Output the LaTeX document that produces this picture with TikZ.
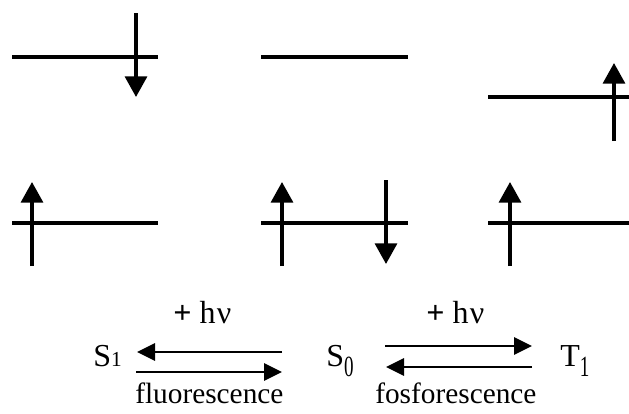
\documentclass[tikz,border=0pt]{standalone}
\usepackage{fontspec}
\usepackage{graphicx}
\setmainfont{Liberation Serif}
\usetikzlibrary{arrows.meta}
\newcommand{\lowsub}[1]{\raisebox{-7.5pt}{\scalebox{0.65}[1]{\fontsize{22}{22}\selectfont #1}}}
\begin{document}
\begin{tikzpicture}[x=0.75pt,y=-0.75pt,
    level/.style={line width=2.5pt},
    spin/.style={line width=2.5pt,-{Triangle[length=15.5pt,width=16.5pt]}},
    trans/.style={line width=1.5pt,-{Triangle[length=13.5pt,width=13pt]}},
    lbl/.style={inner sep=0pt,anchor=base west,font=\fontsize{24}{28}\selectfont}]
    \useasboundingbox (0,0) rectangle (629,414);
    % upper row of orbitals
    \draw[level] (12,57) -- (158,57);
    \draw[spin] (136,13) -- (136,97);
    \draw[level] (261,57) -- (408,57);
    \draw[level] (488,97) -- (629,97);
    \draw[spin] (614,141) -- (614,63);
    % lower row of orbitals
    \draw[level] (12,223) -- (158,223);
    \draw[spin] (32,266) -- (32,182);
    \draw[level] (261,223) -- (408,223);
    \draw[spin] (282,266) -- (282,182);
    \draw[spin] (386,180) -- (386,264);
    \draw[level] (488,223) -- (629,223);
    \draw[spin] (510,266) -- (510,182);
    % states
    \node[lbl] (s1) at (93,366) {S{\fontsize{16}{16}\selectfont 1}};
    \node[lbl] (s0) at (326,366) {S\lowsub{0}};
    \node[lbl] (t1) at (560,366) {T\lowsub{1}};
    \node[lbl] (hv1) at (173,323) {\textbf{+} h\kern1ptν};
    \node[lbl] (hv2) at (426,323) {\textbf{+} h\kern1ptν};
    \node[lbl,font=\fontsize{22}{26}\selectfont] (fluo) at (135,403) {fluorescence};
    \node[lbl,font=\fontsize{22}{26}\selectfont] (fosfo) at (375,403) {fosforescence};
    % transitions
    \coordinate (a1) at (282,352); \coordinate (a2) at (137,352);
    \coordinate (b1) at (136,372); \coordinate (b2) at (282,372);
    \coordinate (c1) at (385,346); \coordinate (c2) at (532,346);
    \coordinate (d1) at (532,367); \coordinate (d2) at (386,367);
    \draw[trans] (a1) -- (a2);
    \draw[trans] (b1) -- (b2);
    \draw[trans] (c1) -- (c2);
    \draw[trans] (d1) -- (d2);
\end{tikzpicture}
\end{document}
